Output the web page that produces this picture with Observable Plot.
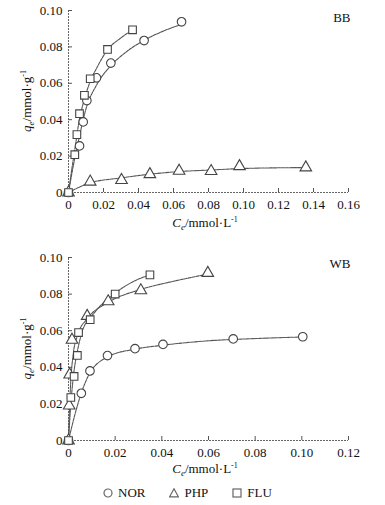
<!DOCTYPE html>
<html><head><meta charset="utf-8">
<script src="https://cdn.jsdelivr.net/npm/d3@7"></script>
<script src="https://cdn.jsdelivr.net/npm/@observablehq/plot@0.6"></script>
<style>
body{margin:0;background:#fff;width:385px;font-family:"Liberation Serif","Times New Roman",serif;color:#111}
#legend{height:16px;display:flex;align-items:center;padding-left:103px;gap:24px;font-size:13px}
#legend span.item{display:inline-flex;align-items:center;gap:5px}
svg{display:block}
</style></head><body>
<div id="top"></div><div id="bottom"></div>
<div id="legend"></div>
<script>
const series = ["NOR", "PHP", "FLU"];
const yTicks = [0, 0.02, 0.04, 0.06, 0.08, 0.10];
const bbXTicks = [0, 0.02, 0.04, 0.06, 0.08, 0.10, 0.12, 0.14, 0.16];
const wbXTicks = [0, 0.02, 0.04, 0.06, 0.08, 0.10, 0.12];

// BB measured points
const bbNorCe = [0, 0.0063, 0.0084, 0.0105, 0.016, 0.0242, 0.0432, 0.0646];
const bbNorQe = [0, 0.0256, 0.0388, 0.0505, 0.063, 0.0711, 0.0835, 0.0938];
const bbPhpCe = [0, 0.0124, 0.0303, 0.0465, 0.0632, 0.0815, 0.0977, 0.1356];
const bbPhpQe = [0, 0.0059, 0.0068, 0.0100, 0.0119, 0.0117, 0.0144, 0.0137];
const bbFluCe = [0, 0.0036, 0.0048, 0.0063, 0.0091, 0.0124, 0.0223, 0.0366];
const bbFluQe = [0, 0.0208, 0.0318, 0.0433, 0.0534, 0.0625, 0.0786, 0.0894];
// BB fitted curves
const bbNorFitCe = [0, 0.003, 0.0063, 0.01, 0.016, 0.024, 0.032, 0.043, 0.055, 0.065];
const bbNorFitQe = [0, 0.016, 0.031, 0.046, 0.059, 0.0695, 0.0765, 0.0835, 0.089, 0.0925];
const bbPhpFitCe = [0, 0.012, 0.03, 0.046, 0.063, 0.08, 0.1, 0.136];
const bbPhpFitQe = [0, 0.0052, 0.0080, 0.0100, 0.0115, 0.0123, 0.0132, 0.0137];
const bbFluFitCe = [0, 0.002, 0.004, 0.006, 0.009, 0.012, 0.017, 0.022, 0.03, 0.0366];
const bbFluFitQe = [0, 0.0135, 0.026, 0.039, 0.051, 0.06, 0.07, 0.078, 0.085, 0.0892];

// WB measured points
const wbNorCe = [0, 0.0055, 0.0092, 0.0167, 0.0285, 0.0405, 0.0706, 0.1004];
const wbNorQe = [0, 0.0258, 0.0380, 0.0464, 0.0502, 0.0525, 0.0555, 0.0567];
const wbPhpCe = [0, 0.0003, 0.0005, 0.0015, 0.008, 0.017, 0.031, 0.0597];
const wbPhpQe = [0, 0.019, 0.036, 0.055, 0.068, 0.076, 0.082, 0.0915];
const wbFluCe = [0, 0.001, 0.0024, 0.0038, 0.0043, 0.0093, 0.020, 0.0349];
const wbFluQe = [0, 0.0235, 0.035, 0.0465, 0.059, 0.066, 0.080, 0.0905];
// WB fitted curves
const wbNorFitCe = [0, 0.0025, 0.0055, 0.009, 0.017, 0.028, 0.04, 0.06, 0.08, 0.1004];
const wbNorFitQe = [0, 0.013, 0.026, 0.0365, 0.0458, 0.0498, 0.052, 0.0545, 0.0557, 0.0566];
const wbPhpFitCe = [0, 0.0005, 0.001, 0.002, 0.004, 0.008, 0.017, 0.03, 0.045, 0.06];
const wbPhpFitQe = [0, 0.02, 0.033, 0.047, 0.058, 0.0665, 0.0755, 0.0822, 0.087, 0.091];
const wbFluFitCe = [0, 0.001, 0.002, 0.004, 0.006, 0.01, 0.02, 0.028, 0.035];
const wbFluFitQe = [0, 0.02, 0.034, 0.05, 0.06, 0.068, 0.0805, 0.087, 0.0905];

function table(name, ce, qe) { return ce.map((c, i) => ({series: name, ce: c, qe: qe[i]})); }

const bbPoints = [...table("NOR", bbNorCe, bbNorQe), ...table("PHP", bbPhpCe, bbPhpQe), ...table("FLU", bbFluCe, bbFluQe)];
const bbFits = [...table("NOR", bbNorFitCe, bbNorFitQe), ...table("PHP", bbPhpFitCe, bbPhpFitQe), ...table("FLU", bbFluFitCe, bbFluFitQe)];
const wbPoints = [...table("NOR", wbNorCe, wbNorQe), ...table("PHP", wbPhpCe, wbPhpQe), ...table("FLU", wbFluCe, wbFluQe)];
const wbFits = [...table("NOR", wbNorFitCe, wbNorFitQe), ...table("PHP", wbPhpFitCe, wbPhpFitQe), ...table("FLU", wbFluFitCe, wbFluFitQe)];

const FONT = '"Liberation Serif","Times New Roman",serif';
const fmt = d => d === 0 ? "0" : d.toFixed(2);

function chart({points, fits, xTicks, tag, height, marginTop, marginBottom, tagDy, xLabelOffset}) {
  const W = 385, mL = 68, mR = 37;
  const plotW = W - mL - mR, plotH = height - marginTop - marginBottom;
  const xMax = xTicks[xTicks.length - 1];
  const svg = Plot.plot({
    width: W, height, marginLeft: mL, marginRight: mR, marginTop, marginBottom,
    x: {domain: [0, xMax]},
    y: {domain: [0, 0.10]},
    symbol: {domain: series, range: ["circle", "triangle", "square"]},
    style: {fontFamily: FONT, fontSize: "13px", color: "#111", background: "white"},
    marks: [
      Plot.ruleX([0], {y1: 0, y2: 0.10, stroke: "#666", strokeDasharray: "2,1"}),
      Plot.ruleY([0], {x1: 0, x2: xMax, stroke: "#666", strokeDasharray: "2,1"}),
      Plot.tickY(yTicks, {insetRight: plotW - 4, stroke: "#555"}),
      Plot.tickX(xTicks, {insetTop: plotH - 4, stroke: "#555"}),
      Plot.axisY({ticks: yTicks, tickSize: 0, tickPadding: 6, tickFormat: fmt, label: null, fill: "#111"}),
      Plot.axisX({ticks: xTicks, tickSize: 0, tickPadding: 7, tickFormat: fmt, label: null, fill: "#111"}),
      Plot.line(fits, {x: "ce", y: "qe", z: "series", curve: "monotone-x", stroke: "#555", strokeWidth: 1.1, strokeDasharray: "3,1"}),
      Plot.dot(points, {x: "ce", y: "qe", symbol: "series", r: 4.3, stroke: "#444", strokeWidth: 1.1, fill: "white"}),
      Plot.text([tag], {frameAnchor: "top-right", dx: 2, dy: tagDy, fontSize: 13, fill: "#111"})
    ]
  });
  const s = d3.select(svg);
  // x axis label
  const xl = s.append("text").attr("x", 205).attr("y", marginTop + plotH + xLabelOffset)
    .attr("text-anchor", "middle").attr("font-family", FONT).attr("font-size", 13).attr("fill", "#111");
  xl.append("tspan").attr("font-style", "italic").text("C");
  xl.append("tspan").attr("font-style", "italic").attr("font-size", 9).attr("dy", 3).text("e");
  xl.append("tspan").attr("dy", -3).text("/mmol·L");
  xl.append("tspan").attr("font-size", 8).attr("dy", -5).text("-1");
  // y axis label
  const cy = marginTop + plotH / 2;
  const yl = s.append("text").attr("transform", `translate(31,${cy}) rotate(-90)`)
    .attr("text-anchor", "middle").attr("font-family", FONT).attr("font-size", 13).attr("fill", "#111");
  yl.append("tspan").attr("font-style", "italic").text("q");
  yl.append("tspan").attr("font-style", "italic").attr("font-size", 9).attr("dy", 3).text("e");
  yl.append("tspan").attr("dy", -3).text("/mmol·g");
  yl.append("tspan").attr("font-size", 8).attr("dy", -5).text("-1");
  return svg;
}

document.getElementById("top").append(chart({points: bbPoints, fits: bbFits, xTicks: bbXTicks, tag: "BB", height: 240, marginTop: 10, marginBottom: 48, tagDy: 2, xLabelOffset: 35}));
document.getElementById("bottom").append(chart({points: wbPoints, fits: wbFits, xTicks: wbXTicks, tag: "WB", height: 245, marginTop: 17, marginBottom: 45, tagDy: 1, xLabelOffset: 33}));

// legend
const icons = {
  circle: '<circle cx="5" cy="5" r="4" fill="white" stroke="#666" stroke-width="1.2"/>',
  triangle: '<path d="M5,0.8 L9.4,8.8 L0.6,8.8 Z" fill="white" stroke="#666" stroke-width="1.2"/>',
  square: '<rect x="1" y="1" width="8" height="8" fill="white" stroke="#666" stroke-width="1.2"/>'
};
const shapes = ["circle", "triangle", "square"];
const leg = document.getElementById("legend");
series.forEach((name, i) => {
  const item = document.createElement("span");
  item.className = "item";
  item.innerHTML = `<svg width="10" height="10">${icons[shapes[i]]}</svg>`;
  const t = document.createElement("span");
  t.textContent = name;
  item.append(t);
  leg.append(item);
});
</script>
</body></html>
